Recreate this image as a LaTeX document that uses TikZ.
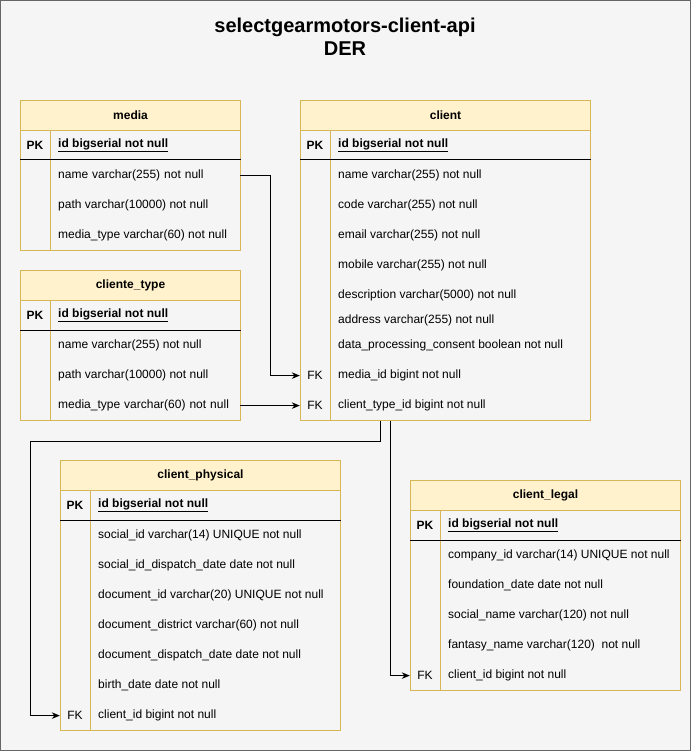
\documentclass[tikz,border=0pt]{standalone}
\usepackage{fontspec}
\setmainfont{Liberation Sans}
\usetikzlibrary{arrows.meta}
\definecolor{hdrfill}{HTML}{FFF2CC}
\definecolor{hdrline}{HTML}{D6B656}
\definecolor{bgfill}{HTML}{F5F5F5}
\definecolor{bgline}{HTML}{666666}
\newcommand\fs{\fontsize{12}{14}\selectfont}
\tikzset{
  tbl/.style={draw=hdrline, line width=1pt, inner sep=0pt},
  hdr/.style={draw=hdrline, fill=hdrfill, line width=1pt, font=\fs\bfseries, inner sep=0pt},
  fld/.style={anchor=west, font=\fs, inner sep=0pt, yshift=-0.6pt},
  keycol/.style={font=\fs, inner sep=0pt, minimum width=30pt, minimum height=30pt, yshift=-0.6pt},
  pkline/.style={draw=black, line width=1pt},
  divline/.style={draw=hdrline, line width=1pt},
  fk/.style={draw=black, line width=1pt, -{Stealth[length=8pt,width=6.5pt]}}
}
\newcommand\ertable[6]{%
  \node[tbl, anchor=north west, minimum width=#4pt, minimum height=#5pt] (#1) at (#2,#3) {};
  \node[hdr, anchor=north west, minimum width=#4pt, minimum height=30pt] (#1-h) at (#2,#3) {#6};
  \draw[divline] ([xshift=30pt,yshift=-30pt]#1.north west) -- ([xshift=30pt]#1.south west);
  \draw[pkline] ([yshift=-60pt]#1.north west) -- ([yshift=-60pt]#1.north east);
  \node[keycol, font=\fs\bfseries] (#1-pk) at ([xshift=15pt,yshift=-45pt]#1.north west) {PK};
  \node[fld] (#1-id) at ([xshift=38pt,yshift=-45pt]#1.north west) {\textbf{\underline{id bigserial not null}}};
}
\begin{document}
\begin{tikzpicture}[x=1pt,y=-1pt]
\useasboundingbox (0,0) rectangle (691,751);
\draw[bgline, fill=bgfill, line width=1pt] (0.5,0.5) rectangle (690.5,750.5);
\node[font=\fontsize{20}{23.5}\selectfont\bfseries, align=center, inner sep=0pt] (title) at (345,37) {selectgearmotors-client-api\\DER};

% media
\ertable{media}{20}{100}{220}{150}{media}
\node[fld, text width=174pt, inner xsep=8pt, anchor=west] (media-name) at (50,175) {name varchar(255) not null};
\node[fld] (media-path) at (58,205) {path varchar(10000) not null};
\node[fld] (media-type) at (58,235) {media\_type varchar(60) not null};

% cliente_type
\ertable{ctype}{20}{270}{220}{150}{cliente\_type}
\node[fld] (ctype-name) at (58,345) {name varchar(255) not null};
\node[fld] (ctype-path) at (58,375) {path varchar(10000) not null};
\node[fld, text width=174pt, inner xsep=8pt, anchor=west] (ctype-mt) at (50,405) {media\_type varchar(60) not null};

% client
\ertable{client}{300}{100}{290}{320}{client}
\node[fld] (c1) at (338,175) {name varchar(255) not null};
\node[fld] (c2) at (338,205) {code varchar(255) not null};
\node[fld] (c3) at (338,235) {email varchar(255) not null};
\node[fld] (c4) at (338,265) {mobile varchar(255) not null};
\node[fld] (c5) at (338,295) {description varchar(5000) not null};
\node[fld] (c6) at (338,320) {address varchar(255) not null};
\node[fld] (c7) at (338,345) {data\_processing\_consent boolean not null};
\node[keycol] (client-fk1) at (315,375) {FK};
\node[fld] (c8) at (338,375) {media\_id bigint not null};
\node[keycol] (client-fk2) at (315,405) {FK};
\node[fld] (c9) at (338,405) {client\_type\_id bigint not null};

% client_physical
\ertable{cp}{60}{460}{280}{270}{client\_physical}
\node[fld] (p1) at (98,535) {social\_id varchar(14) UNIQUE not null};
\node[fld] (p2) at (98,565) {social\_id\_dispatch\_date date not null};
\node[fld] (p3) at (98,595) {document\_id varchar(20) UNIQUE not null};
\node[fld] (p4) at (98,625) {document\_district varchar(60) not null};
\node[fld] (p5) at (98,655) {document\_dispatch\_date date not null};
\node[fld] (p6) at (98,685) {birth\_date date not null};
\node[keycol] (cp-fk) at (75,715) {FK};
\node[fld] (p7) at (98,715) {client\_id bigint not null};

% client_legal
\ertable{cl}{410}{480}{270}{210}{client\_legal}
\node[fld] (l1) at (448,555) {company\_id varchar(14) UNIQUE not null};
\node[fld] (l2) at (448,585) {foundation\_date date not null};
\node[fld] (l3) at (448,615) {social\_name varchar(120) not null};
\node[fld] (l4) at (448,645) {fantasy\_name varchar(120)\ \ not null};
\node[keycol] (cl-fk) at (425,675) {FK};
\node[fld] (l5) at (448,675) {client\_id bigint not null};

% connectors
\draw[fk] (media-name.east) -- ++(30,0) |- (client-fk1.west);
\draw[fk] (ctype-mt.east) -- (client-fk2.west);
\draw[fk] (client.south west) ++(80,0) -- ++(0,20) -- ++(-350,0) |- (cp-fk.west);
\draw[fk] (client.south west) ++(90,0) |- (cl-fk.west);
\end{tikzpicture}
\end{document}
